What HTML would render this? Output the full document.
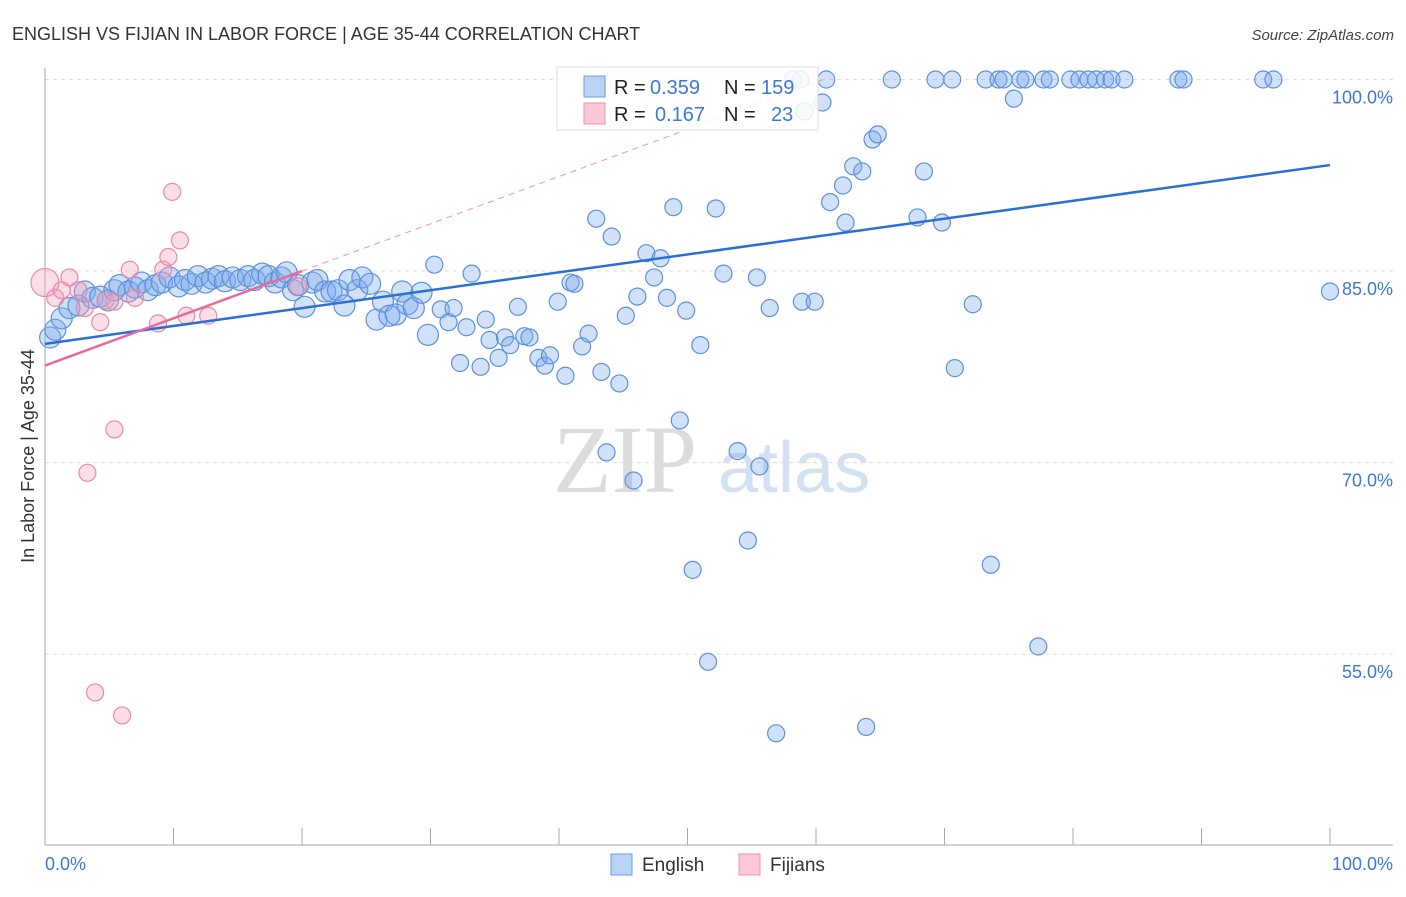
<!DOCTYPE html>
<html><head><meta charset="utf-8"><style>
body{margin:0;background:#fff;font-family:"Liberation Sans",sans-serif}
</style></head><body>
<svg width="1406" height="892" viewBox="0 0 1406 892" xmlns="http://www.w3.org/2000/svg">
<text x="12" y="40" font-size="18" fill="#333">ENGLISH VS FIJIAN IN LABOR FORCE | AGE 35-44 CORRELATION CHART</text>
<text x="1394" y="40" font-size="15" fill="#444" font-style="italic" text-anchor="end">Source: ZipAtlas.com</text>
<g>
<text x="553" y="492" font-size="96" fill="#dcdcdc" font-family="Liberation Serif,serif">ZIP</text>
<text x="718" y="492" font-size="72" fill="#d3e1f3">atlas</text>
</g>
<g id="grid"></g>
<g id="axes"></g>
<g id="pts"></g>
<g id="trend"></g>
<g>
<rect x="557" y="67" width="261" height="63" fill="#fff" fill-opacity="0.85" stroke="#ddd"/>
<rect x="584" y="76" width="21" height="21" fill="#b9d3f5" stroke="#6a9be0"/>
<rect x="584" y="103" width="21" height="21" fill="#fbc9d6" stroke="#eb93ae"/>
<g font-size="20" fill="#222">
<text x="614" y="94">R =</text>
<text x="650" y="94" fill="#3b78d8">0.359</text>
<text x="724" y="94">N =</text>
<text x="761" y="94" fill="#3b78d8">159</text>
<text x="614" y="121">R =</text>
<text x="655" y="121" fill="#3b78d8">0.167</text>
<text x="724" y="121">N =</text>
<text x="771" y="121" fill="#3b78d8">23</text>
</g>
</g>
<text x="34" y="456" font-size="18" fill="#333" text-anchor="middle" transform="rotate(-90 34 456)">In Labor Force | Age 35-44</text>
<g>
<rect x="611" y="854" width="21" height="21" fill="#b9d3f5" stroke="#6a9be0"/>
<text x="642" y="871" font-size="19" fill="#333">English</text>
<rect x="739" y="854" width="21" height="21" fill="#fbc9d6" stroke="#eb93ae"/>
<text x="770" y="871" font-size="19" fill="#333">Fijians</text>
</g>
</svg>
<script>
const yTicks=[100,85,70,55];
const yTickLabels=["100.0%","85.0%","70.0%","55.0%"];
const xTicks=[0,10,20,30,40,50,60,70,80,90,100];
const engX=[0.4,0.8,1.3,1.9,2.6,3.1,3.7,4.3,4.9,5.4,5.8,6.5,7.0,7.5,8.0,8.6,9.1,9.7,10.4,10.9,11.4,11.9,12.5,13.0,13.5,14.0,14.6,15.2,15.8,16.3,16.9,17.4,17.9,18.4,18.8,19.3,19.7,20.2,20.8,21.2,21.8,22.3,22.8,23.3,23.7,24.3,24.7,25.3,25.8,26.3,26.8,27.3,27.8,28.2,28.7,29.3,29.8,30.3,30.8,31.4,31.8,32.3,32.8,33.2,33.9,34.3,34.6,35.3,35.8,36.2,36.8,37.3,37.7,38.4,38.9,39.3,39.9,40.5,40.9,41.2,41.8,42.3,42.9,43.3,43.7,44.1,44.7,45.2,45.8,46.1,46.8,47.4,47.9,48.4,48.9,49.4,49.9,50.4,51.0,51.6,52.2,52.8,53.9,54.7,55.4,55.6,56.4,56.9,58.9,59.9,60.5,60.8,61.1,62.1,62.3,62.9,63.6,63.9,64.4,64.8,65.9,67.9,68.4,69.3,69.8,70.6,70.8,72.2,73.2,73.6,74.2,74.6,75.4,75.9,76.3,77.3,77.7,78.2,79.8,80.5,81.2,81.8,82.5,83.0,84.0,88.2,88.6,94.8,95.6,100,58.2,58.8,59.1];
const engY=[79.8,80.4,81.3,82.1,82.3,83.4,82.9,83.0,82.7,83.5,83.9,83.4,83.7,84.1,83.5,83.9,84.1,84.5,83.8,84.3,84.0,84.6,84.1,84.4,84.6,84.2,84.5,84.3,84.6,84.3,84.8,84.6,84.1,84.5,84.9,83.5,83.9,82.2,84.1,84.3,83.4,83.4,83.5,82.3,84.3,83.5,84.5,84.0,81.2,82.6,81.5,81.6,83.4,82.4,82.1,83.3,80.0,85.5,82.0,81.0,82.1,77.8,80.6,84.8,77.5,81.2,79.6,78.2,79.8,79.2,82.2,79.9,79.8,78.2,77.6,78.4,82.6,76.8,84.1,84.0,79.1,80.1,89.1,77.1,70.8,87.7,76.2,81.5,68.6,83.0,86.4,84.5,86.0,82.9,90.0,73.3,81.9,61.6,79.2,54.4,89.9,84.8,70.9,63.9,84.5,69.7,82.1,48.8,82.6,82.6,98.2,100,90.4,91.7,88.8,93.2,92.8,49.3,95.3,95.7,100,89.2,92.8,100,88.8,100,77.4,82.4,100,62.0,100,100,98.5,100,100,55.6,100,100,100,100,100,100,100,100,100,100,100,100,100,83.4,100,100,97.5];
const fijX=[0,0.8,1.3,1.9,2.6,3.1,4.3,4.7,5.4,6.6,7.0,8.8,9.2,9.6,9.9,10.5,11.0,12.7,3.3,5.4,3.9,6.0,19.7];
const fijY=[84.1,82.9,83.5,84.5,83.5,82.1,81.0,82.7,82.6,85.1,82.9,80.9,85.1,86.1,91.2,87.4,81.5,81.5,69.2,72.6,52.0,50.2,83.8];
const engTrend=[79.3,93.3]; // value at x=0 and x=100
const fijTrend=[77.6,85.0]; // value at x=0 and x=20
const NS="http://www.w3.org/2000/svg";
const X=v=>45+v*12.85, Y=v=>79.5+(100-v)*12.77;
function mk(p,t,a){const e=document.createElementNS(NS,t);for(const k in a)e.setAttribute(k,a[k]);document.getElementById(p).appendChild(e);return e;}
yTicks.forEach((t,i)=>{
 const l=mk('grid','line',{x1:45,x2:1393,y1:Y(t),y2:Y(t),stroke:'#ddd','stroke-dasharray':'4,4'});
 
 
 const tx=mk('grid','text',{x:1393,y:Y(t)+24,'font-size':18,fill:'#3b78d8','text-anchor':'end'});
 tx.textContent=yTickLabels[i];
 
 
});
let a=mk('axes','line',{x1:45,x2:45,y1:68,y2:845,stroke:'#aaa'});


a=mk('axes','line',{x1:45,x2:1393,y1:845,y2:845,stroke:'#aaa'});


xTicks.forEach(t=>{const l=mk('axes','line',{x1:X(t),x2:X(t),y1:828,y2:845,stroke:'#aaa'});
 
 });
let t0=mk('axes','text',{x:45,y:870,'font-size':18,fill:'#3b78d8'});t0.textContent='0.0%';


t0=mk('axes','text',{x:1393,y:870,'font-size':18,fill:'#3b78d8','text-anchor':'end'});t0.textContent='100.0%';


engX.forEach((x,i)=>{const c=mk('pts','circle',{cx:X(x),cy:Y(engY[i]),r:x<30?10.5:8.5,fill:'rgba(120,170,235,0.35)',stroke:'#5d91dc','stroke-width':1.2});
 
 });
fijX.forEach((x,i)=>{const c=mk('pts','circle',{cx:X(x),cy:Y(fijY[i]),r:x===0?14:8.5,fill:'rgba(245,160,185,0.35)',stroke:'#e88aa8','stroke-width':1.2});
 
 });
const fs=(fijTrend[1]-fijTrend[0])/20;
let l=mk('trend','line',{x1:X(20),y1:Y(fijTrend[1]),x2:X(60.5),y2:Y(fijTrend[0]+fs*60.5),stroke:'#eb93ae','stroke-width':1,'stroke-dasharray':'6,5'});


l=mk('trend','line',{x1:X(0),y1:Y(engTrend[0]),x2:X(100),y2:Y(engTrend[1]),stroke:'#2a6fd6','stroke-width':2.5});


l=mk('trend','line',{x1:X(0),y1:Y(fijTrend[0]),x2:X(20),y2:Y(fijTrend[1]),stroke:'#e8699a','stroke-width':2.5});


</script>
</body></html>
